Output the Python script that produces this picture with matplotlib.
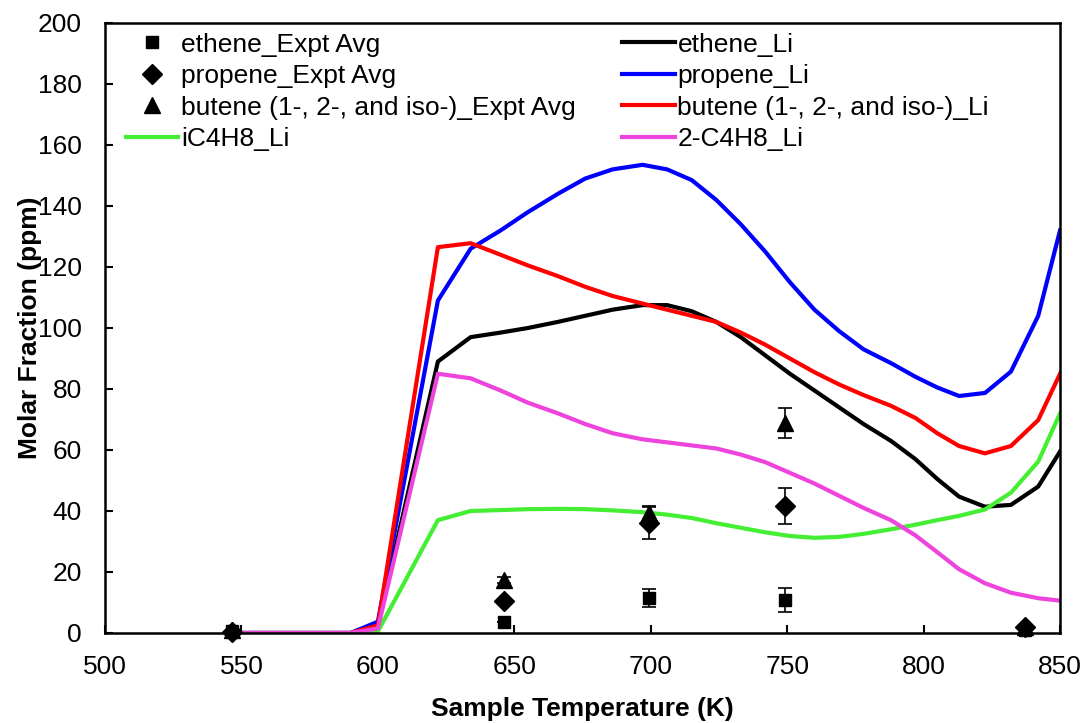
import matplotlib
matplotlib.use('Agg')
import matplotlib.pyplot as plt

plt.rcParams['font.family'] = ['Liberation Sans', 'DejaVu Sans']

# model temperatures (K)
T_model = [550, 590, 600, 622, 634, 645, 655, 666, 676, 686, 697, 706, 715, 724,
           733, 742, 751, 760, 769, 778, 788, 797, 805, 813, 822.5, 832, 842, 850]

ethene_li = [0, 0, 2.5, 89, 97, 98.5, 100, 102, 104, 106, 107.5, 107.5, 105.5, 102,
             97, 91, 85, 79.5, 74, 68.5, 63, 57, 50.5, 44.7, 41.4, 42, 48, 59.5]
propene_li = [0, 0, 3.7, 109, 126, 132, 138, 144, 149, 152, 153.5, 152, 148.5, 142,
              134, 125, 115, 106, 99, 93, 88.5, 84, 80.5, 77.7, 78.7, 85.7, 104, 132]
butene_li = [0, 0, 2.5, 126.5, 127.8, 124, 120.5, 117, 113.5, 110.5, 108, 106, 104, 102,
             98.5, 94.5, 90, 85.5, 81.5, 78, 74.5, 70.5, 65.5, 61.3, 58.9, 61.3, 69.8, 85]
ic4h8_li = [0, 0, 0.5, 37, 40, 40.3, 40.6, 40.7, 40.6, 40.2, 39.6, 38.8, 37.7, 36,
            34.5, 33, 31.8, 31.2, 31.5, 32.5, 34, 35.5, 37, 38.4, 40.5, 46, 56.2, 72]
c4h8_2_li = [0, 0, 1.5, 85, 83.5, 79.5, 75.5, 72, 68.5, 65.5, 63.5, 62.5, 61.5, 60.5,
             58.5, 56, 52.5, 49, 45, 41, 37, 32, 26.5, 20.9, 16.3, 13.2, 11.4, 10.6]

# experimental averages
T_expt = [546.5, 646.4, 699.4, 749.2, 837.2]
ethene_expt = [0.5, 3.7, 11.4, 10.8, 1.0]
ethene_err = [0, 0, 3, 4, 0]
propene_expt = [0.3, 10.5, 36, 41.7, 2.0]
propene_err = [0, 0, 5.3, 6, 0]
butene_expt = [1.0, 17.4, 39.5, 68.8, 2.0]
butene_err = [0, 1, 2.2, 5, 0]

fig = plt.figure(figsize=(10.87, 7.23), dpi=100)
ax = fig.add_axes([0.0966, 0.1245, 0.8786, 0.8437])

lw = 3
h_black, = ax.plot(T_model, ethene_li, color='black', lw=lw)
h_blue, = ax.plot(T_model, propene_li, color='#0000ff', lw=lw)
h_red, = ax.plot(T_model, butene_li, color='#ff0000', lw=lw)
h_green, = ax.plot(T_model, ic4h8_li, color='#44ee33', lw=lw)
h_pink, = ax.plot(T_model, c4h8_2_li, color='#ee44dd', lw=lw)

eb = dict(ls='none', color='black', ecolor='black', elinewidth=1.2, capsize=5, capthick=1.2,
          clip_on=False, zorder=5)
h_sq = ax.errorbar(T_expt, ethene_expt, yerr=ethene_err, marker='s', ms=9, **eb)
h_di = ax.errorbar(T_expt, propene_expt, yerr=propene_err, marker='D', ms=10.5, **eb)
h_tr = ax.errorbar(T_expt, butene_expt, yerr=butene_err, marker='^', ms=11, **eb)

ax.set_xlim(500, 850)
ax.set_ylim(0, 200)
ax.set_xticks(range(500, 851, 50))
ax.set_yticks(range(0, 201, 20))
ax.tick_params(direction='in', length=6, width=1.5, labelsize=19)
ax.tick_params(axis='y', pad=16.5)
ax.tick_params(axis='x', pad=16)
for s in ax.spines.values():
    s.set_linewidth(1.8)

ax.set_xlabel('Sample Temperature (K)', fontsize=19, fontweight='bold', labelpad=13)
ax.set_ylabel('Molar Fraction (ppm)', fontsize=19, fontweight='bold')
ax.yaxis.set_label_coords(-0.066, 0.5)

handles = [h_sq[0], h_di[0], h_tr[0], h_green, h_black, h_blue, h_red, h_pink]
labels = ['ethene_Expt Avg', 'propene_Expt Avg', 'butene (1-, 2-, and iso-)_Expt Avg',
          'iC4H8_Li', 'ethene_Li', 'propene_Li', 'butene (1-, 2-, and iso-)_Li', '2-C4H8_Li']
ax.legend(handles, labels, ncol=2, frameon=False, fontsize=19, loc='upper left',
          bbox_to_anchor=(0.005, 1.01), labelspacing=0.28, handlelength=2.0,
          handletextpad=0.1, columnspacing=1.75, borderaxespad=0.2)

fig.savefig('out.png', dpi=100)
